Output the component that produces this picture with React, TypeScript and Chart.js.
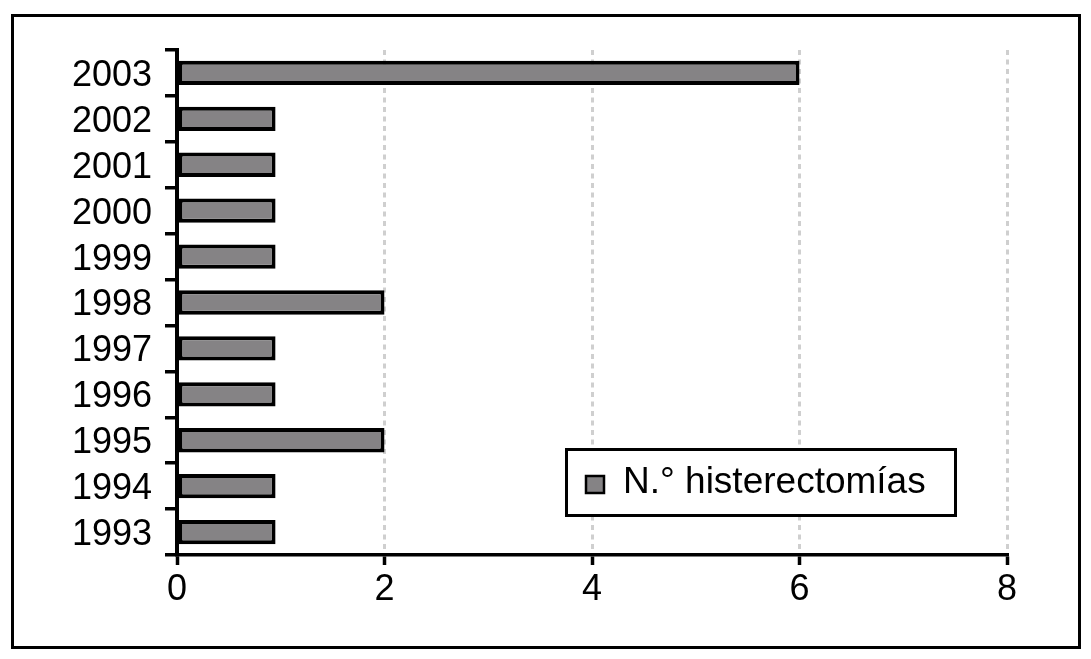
import React, { useEffect, useRef } from 'react';
import { Chart, registerables } from 'chart.js';

Chart.register(...registerables);

const years = ['1993', '1994', '1995', '1996', '1997', '1998', '1999', '2000', '2001', '2002', '2003'];
const hysterectomies = [0.95, 0.95, 2, 0.95, 0.95, 2, 0.95, 0.95, 0.95, 0.95, 6];
const seriesLabel = 'N.° histerectomías';
const xMin = 0;
const xMax = 8;
const xStep = 2;

const FONT = '"Liberation Sans", Arial, Helvetica, sans-serif';
const BAR_FILL = '#858385';

const framePlugin = {
  id: 'frameAndLegend',
  afterDraw(chart: any) {
    const ctx = chart.ctx as CanvasRenderingContext2D;
    ctx.save();
    // outer frame
    ctx.lineWidth = 3;
    ctx.strokeStyle = '#000';
    ctx.setLineDash([]);
    ctx.strokeRect(12.5, 15.5, 1067, 632);
    // legend box
    ctx.fillStyle = '#fff';
    ctx.fillRect(566.5, 449.5, 389, 66);
    ctx.strokeRect(566.5, 449.5, 389, 66);
    // swatch
    const ds = chart.data.datasets[0];
    ctx.fillStyle = ds.backgroundColor;
    ctx.fillRect(586, 476, 18, 17);
    ctx.lineWidth = 2.5;
    ctx.strokeRect(586, 476, 18, 17);
    // text
    ctx.fillStyle = '#000';
    ctx.font = `37px ${FONT}`;
    ctx.textBaseline = 'middle';
    ctx.textAlign = 'left';
    ctx.fillText(ds.label, 623, 483);
    ctx.restore();
  },
};

export default function App() {
  const ref = useRef<HTMLCanvasElement | null>(null);

  useEffect(() => {
    if (!ref.current) return;
    const chart = new Chart(ref.current, {
      type: 'bar',
      data: {
        labels: years,
        datasets: [
          {
            label: seriesLabel,
            data: hysterectomies,
            backgroundColor: BAR_FILL,
            borderColor: '#000',
            borderWidth: 4,
            borderSkipped: false,
            barPercentage: 0.53,
            categoryPercentage: 1,
          },
        ],
      },
      options: {
        indexAxis: 'y',
        animation: false,
        responsive: true,
        maintainAspectRatio: false,
        layout: { padding: { left: 0, top: 50, right: 84, bottom: 0 } },
        plugins: {
          legend: { display: false },
          tooltip: { enabled: false },
          title: { display: false },
        },
        scales: {
          x: {
            type: 'linear',
            min: xMin,
            max: xMax,
            ticks: {
              stepSize: xStep,
              color: '#000',
              font: { family: FONT, size: 36 },
              padding: 3,
              autoSkip: false,
              maxRotation: 0,
            },
            grid: {
              color: (c: any) => (c.tick && c.tick.value === 0 ? 'rgba(0,0,0,0)' : '#cfcfcf'),
              lineWidth: 3,
              tickColor: '#000',
              tickWidth: 3.5,
              tickLength: 10,
              drawTicks: true,
            },
            border: { display: true, color: '#000', width: 3.5, dash: [5, 4.5] },
            afterFit: (s: any) => {
              s.height = 104;
            },
          },
          y: {
            type: 'category',
            reverse: true,
            z: 1,
            ticks: {
              color: '#000',
              font: { family: FONT, size: 36 },
              padding: 13,
              labelOffset: 3,
              autoSkip: false,
            },
            grid: {
              offset: true,
              drawOnChartArea: false,
              drawTicks: true,
              tickLength: 12,
              color: '#000',
              lineWidth: 3.5,
            },
            border: { display: true, color: '#000', width: 4 },
            afterFit: (s: any) => {
              s.width = 177;
            },
          },
        },
      },
      plugins: [framePlugin],
    });
    return () => chart.destroy();
  }, []);

  return (
    <div style={{ position: 'fixed', left: 0, top: 0, width: 1091, height: 659, background: '#fff' }}>
      <canvas ref={ref} />
    </div>
  );
}
